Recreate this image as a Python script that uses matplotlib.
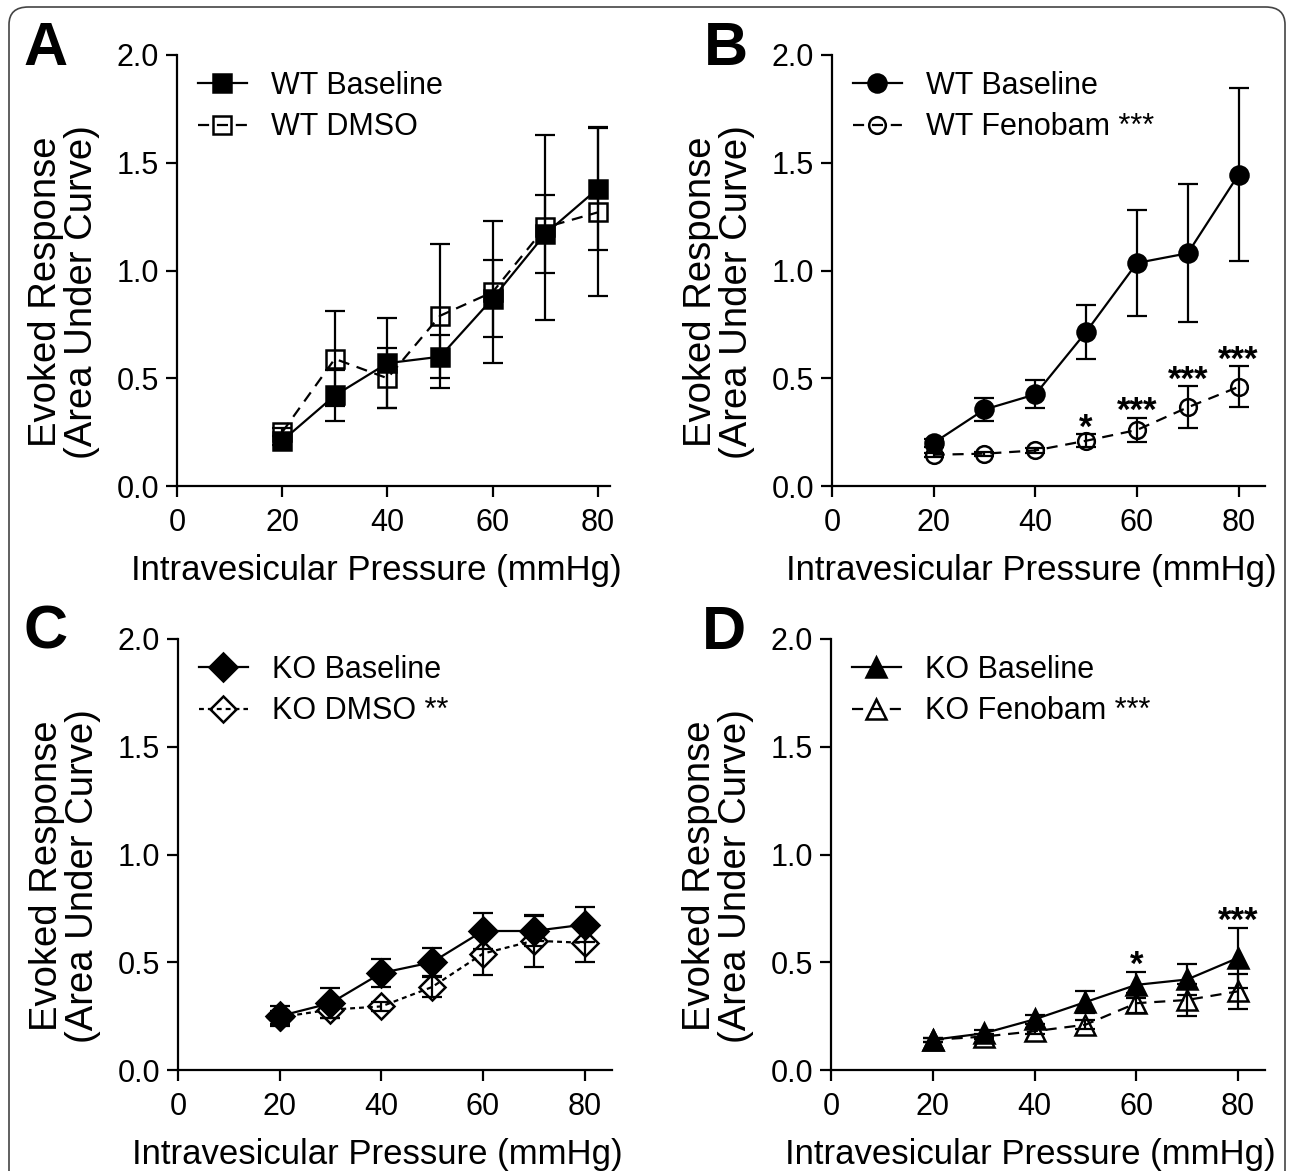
import matplotlib
matplotlib.use('Agg')
import matplotlib.pyplot as plt
from matplotlib.patches import FancyBboxPatch

plt.rcParams['font.family'] = ['Liberation Sans', 'DejaVu Sans']

pressure = [20, 30, 40, 50, 60, 70, 80]

# panel A
wt_base_a = [0.21, 0.42, 0.57, 0.60, 0.87, 1.17, 1.38]
wt_base_a_err = [0.02, 0.12, 0.21, 0.10, 0.18, 0.18, 0.285]
wt_dmso_a = [0.25, 0.59, 0.50, 0.79, 0.90, 1.20, 1.27]
wt_dmso_a_err = [0.02, 0.22, 0.14, 0.335, 0.33, 0.43, 0.39]

# panel B
wt_base_b = [0.20, 0.355, 0.425, 0.715, 1.035, 1.08, 1.445]
wt_base_b_err = [0.02, 0.055, 0.065, 0.125, 0.245, 0.32, 0.40]
wt_feno_b = [0.145, 0.15, 0.165, 0.21, 0.26, 0.365, 0.46]
wt_feno_b_err = [0.01, 0.01, 0.01, 0.03, 0.057, 0.098, 0.095]
stars_b = {50: '*', 60: '***', 70: '***', 80: '***'}

# panel C
ko_base_c = [0.25, 0.31, 0.45, 0.50, 0.645, 0.645, 0.675]
ko_base_c_err = [0.047, 0.07, 0.063, 0.065, 0.085, 0.07, 0.08]
ko_dmso_c = [0.245, 0.28, 0.295, 0.385, 0.54, 0.60, 0.59]
ko_dmso_c_err = [0.03, 0.04, 0.02, 0.048, 0.10, 0.12, 0.09]

# panel D
ko_base_d = [0.14, 0.17, 0.235, 0.315, 0.395, 0.42, 0.52]
ko_base_d_err = [0.01, 0.015, 0.02, 0.05, 0.06, 0.07, 0.14]
ko_feno_d = [0.14, 0.155, 0.18, 0.21, 0.31, 0.325, 0.365]
ko_feno_d_err = [0.01, 0.01, 0.015, 0.02, 0.045, 0.075, 0.08]
stars_d = {60: '*', 80: '***'}

fig = plt.figure(figsize=(12.93, 11.71), dpi=100)

W, H = 1293, 1171
def px_axes(l, r, t, b):
    return fig.add_axes([l / W, 1 - b / H, (r - l) / W, (b - t) / H])

def series(ax, y, err, marker, filled, label, dashes=None, ms=13, z=3):
    line, = ax.plot(pressure, y, color='black', lw=1.6, marker=marker, markersize=ms,
                    markeredgewidth=1.8, markeredgecolor='black',
                    markerfacecolor='black' if filled else 'none', zorder=z, label=label)
    if dashes:
        line.set_dashes(dashes)
    ax.errorbar(pressure, y, yerr=err, fmt='none', ecolor='black',
                elinewidth=1.6, capsize=7.5, capthick=1.6, zorder=z - 1)

def style(ax, letter, xmax, letter_x):
    ax.set_xlim(0, xmax)
    ax.set_ylim(0, 2.0)
    ax.set_xticks([0, 20, 40, 60, 80])
    ax.set_yticks([0.0, 0.5, 1.0, 1.5, 2.0])
    ax.set_yticklabels(['0.0', '0.5', '1.0', '1.5', '2.0'])
    for s in ['top', 'right']:
        ax.spines[s].set_visible(False)
    for s in ['left', 'bottom']:
        ax.spines[s].set_linewidth(1.6)
    ax.tick_params(direction='out', length=8, width=1.6, labelsize=22)
    ax.tick_params(axis='x', pad=8)
    ax.tick_params(axis='y', pad=5)
    ax.set_xlabel('Intravesicular Pressure (mmHg)', fontsize=25)
    ax.xaxis.set_label_coords(0.46, -0.158)
    ax.set_ylabel('Evoked Response\n(Area Under Curve)', fontsize=27.5, linespacing=1.0)
    ax.yaxis.set_label_coords(-0.178, 0.45)
    h, l = ax.get_legend_handles_labels()
    ax.legend(h[::-1], l[::-1], loc='upper left', bbox_to_anchor=(0.02, 0.992),
              frameon=False, fontsize=22, handlelength=1.6, handletextpad=0.8,
              labelspacing=0.38, borderaxespad=0)
    ax.text(letter_x, 1.08, letter, transform=ax.transAxes, fontsize=44,
            fontweight='bold', ha='left', va='top')

def add_stars(ax, y, err, stars):
    for x, s in stars.items():
        i = pressure.index(x)
        ax.text(x, y[i] + err[i] - 0.015, s, ha='center', va='baseline',
                fontsize=25, fontweight='bold')

# A
axA = px_axes(177, 610, 55, 486)
series(axA, wt_dmso_a, wt_dmso_a_err, 's', False, 'WT DMSO', dashes=(5, 3.5), ms=13, z=3)
series(axA, wt_base_a, wt_base_a_err, 's', True, 'WT Baseline', ms=13, z=5)
style(axA, 'A', 82.3, -0.355)

# B
axB = px_axes(832, 1265, 55, 486)
series(axB, wt_feno_b, wt_feno_b_err, 'o', False, 'WT Fenobam ***', dashes=(5, 3.5), ms=12, z=3)
series(axB, wt_base_b, wt_base_b_err, 'o', True, 'WT Baseline', ms=13, z=5)
style(axB, 'B', 85.2, -0.297)
add_stars(axB, wt_feno_b, wt_feno_b_err, stars_b)

# C
axC = px_axes(178, 612, 639, 1070)
series(axC, ko_dmso_c, ko_dmso_c_err, 'D', False, 'KO DMSO **', dashes=(2.2, 1.8), ms=13, z=3)
series(axC, ko_base_c, ko_base_c_err, 'D', True, 'KO Baseline', ms=14, z=5)
style(axC, 'C', 85.4, -0.355)

# D
axD = px_axes(831, 1265, 639, 1070)
series(axD, ko_feno_d, ko_feno_d_err, '^', False, 'KO Fenobam ***', dashes=(5, 3.5), ms=14, z=3)
series(axD, ko_base_d, ko_base_d_err, '^', True, 'KO Baseline', ms=15, z=5)
style(axD, 'D', 85.3, -0.297)
add_stars(axD, ko_base_d, ko_base_d_err, stars_d)

border = FancyBboxPatch((9 / W, -0.05), (1285 - 9) / W, 1 - 7 / H + 0.05,
                        boxstyle='round,pad=0,rounding_size=0.015',
                        transform=fig.transFigure, fill=False,
                        edgecolor='#444444', lw=1.2)
fig.patches.append(border)

fig.savefig('out.png', dpi=100)
